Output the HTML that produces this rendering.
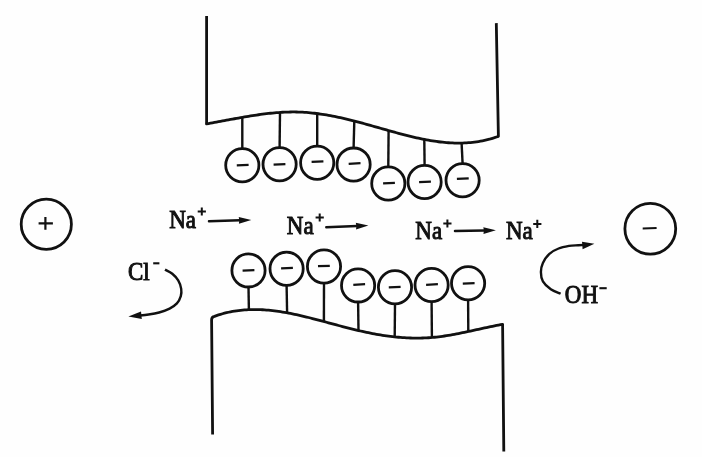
<!DOCTYPE html>
<html><head><meta charset="utf-8"><style>
html,body{margin:0;padding:0;background:#fff;width:702px;height:457px;overflow:hidden}
svg{display:block;will-change:transform}
text{font-family:"Liberation Serif",serif;fill:#111;stroke:#111;stroke-width:0.9px}
</style></head><body>
<svg width="702" height="457" viewBox="0 0 702 457">
<rect width="702" height="457" fill="#fefefe"/>
<path d="M206.6,15.9 L206.6,121.5 L206.50,123.85 L208.50,123.51 L210.50,123.16 L212.50,122.80 L214.50,122.44 L216.50,122.08 L218.50,121.71 L220.50,121.34 L222.50,120.97 L224.50,120.60 L226.50,120.23 L228.50,119.86 L230.50,119.48 L232.50,119.11 L234.50,118.75 L236.50,118.38 L238.50,118.02 L240.50,117.66 L242.50,117.31 L244.50,116.96 L246.50,116.62 L248.50,116.29 L250.50,115.96 L252.50,115.64 L254.50,115.33 L256.50,115.03 L258.50,114.74 L260.50,114.46 L262.50,114.19 L264.50,113.93 L266.50,113.69 L268.50,113.46 L270.50,113.24 L272.50,113.04 L274.50,112.85 L276.50,112.68 L278.50,112.53 L280.50,112.39 L282.50,112.27 L284.50,112.17 L286.50,112.09 L288.50,112.03 L290.50,111.99 L292.50,111.97 L294.50,111.97 L296.50,111.99 L298.50,112.04 L300.50,112.11 L302.50,112.21 L304.50,112.33 L306.50,112.47 L308.50,112.63 L310.50,112.81 L312.50,113.02 L314.50,113.24 L316.50,113.49 L318.50,113.75 L320.50,114.03 L322.50,114.33 L324.50,114.65 L326.50,114.98 L328.50,115.33 L330.50,115.70 L332.50,116.08 L334.50,116.48 L336.50,116.89 L338.50,117.31 L340.50,117.74 L342.50,118.19 L344.50,118.65 L346.50,119.12 L348.50,119.60 L350.50,120.09 L352.50,120.59 L354.50,121.10 L356.50,121.62 L358.50,122.15 L360.50,122.68 L362.50,123.22 L364.50,123.76 L366.50,124.31 L368.50,124.87 L370.50,125.42 L372.50,125.99 L374.50,126.55 L376.50,127.12 L378.50,127.69 L380.50,128.26 L382.50,128.83 L384.50,129.40 L386.50,129.97 L388.50,130.53 L390.50,131.09 L392.50,131.65 L394.50,132.21 L396.50,132.75 L398.50,133.30 L400.50,133.83 L402.50,134.36 L404.50,134.88 L406.50,135.39 L408.50,135.89 L410.50,136.39 L412.50,136.86 L414.50,137.33 L416.50,137.79 L418.50,138.23 L420.50,138.66 L422.50,139.07 L424.50,139.47 L426.50,139.85 L428.50,140.21 L430.50,140.55 L432.50,140.88 L434.50,141.19 L436.50,141.48 L438.50,141.74 L440.50,141.99 L442.50,142.21 L444.50,142.41 L446.50,142.58 L448.50,142.73 L450.50,142.86 L452.50,142.96 L454.50,143.03 L456.50,143.07 L458.50,143.09 L460.50,143.08 L462.50,143.04 L464.50,142.96 L466.50,142.86 L468.50,142.72 L470.50,142.55 L472.50,142.35 L474.50,142.11 L476.50,141.84 L478.50,141.53 L480.50,141.19 L482.50,140.81 L484.50,140.39 L486.50,139.93 L488.50,139.43 L490.50,138.90 L492.50,138.32 L494.50,137.70 L496.50,137.03 L498.40,136.36 L496.3,23.1" fill="none" stroke="#111" stroke-width="2.8" stroke-linejoin="round"/>
<line x1="242.3" y1="117.3" x2="242.3" y2="148.6" stroke="#111" stroke-width="2.4"/>
<circle cx="242.3" cy="165.2" r="16.6" fill="none" stroke="#111" stroke-width="2.8"/>
<line x1="236.8" y1="165.3" x2="248.6" y2="164.8" stroke="#111" stroke-width="2.2"/>
<line x1="280.0" y1="112.4" x2="279.6" y2="147.6" stroke="#111" stroke-width="2.4"/>
<circle cx="279.6" cy="164.2" r="16.6" fill="none" stroke="#111" stroke-width="2.8"/>
<line x1="273.6" y1="164.7" x2="285.4" y2="164.2" stroke="#111" stroke-width="2.2"/>
<line x1="317.2" y1="113.6" x2="317.2" y2="146.2" stroke="#111" stroke-width="2.4"/>
<circle cx="317.2" cy="162.8" r="16.6" fill="none" stroke="#111" stroke-width="2.8"/>
<line x1="311.6" y1="161.8" x2="323.4" y2="161.3" stroke="#111" stroke-width="2.2"/>
<line x1="354.3" y1="121.1" x2="353.6" y2="148.0" stroke="#111" stroke-width="2.4"/>
<circle cx="353.6" cy="164.6" r="16.6" fill="none" stroke="#111" stroke-width="2.8"/>
<line x1="348.7" y1="163.8" x2="360.5" y2="163.2" stroke="#111" stroke-width="2.2"/>
<line x1="388.6" y1="130.6" x2="388.3" y2="166.9" stroke="#111" stroke-width="2.4"/>
<circle cx="388.3" cy="183.5" r="16.6" fill="none" stroke="#111" stroke-width="2.8"/>
<line x1="383.1" y1="183.3" x2="394.9" y2="182.8" stroke="#111" stroke-width="2.2"/>
<line x1="424.3" y1="139.4" x2="424.6" y2="165.4" stroke="#111" stroke-width="2.4"/>
<circle cx="424.6" cy="182.0" r="16.6" fill="none" stroke="#111" stroke-width="2.8"/>
<line x1="419.1" y1="182.2" x2="430.9" y2="181.7" stroke="#111" stroke-width="2.2"/>
<line x1="461.6" y1="143.1" x2="462.6" y2="163.6" stroke="#111" stroke-width="2.4"/>
<circle cx="462.6" cy="180.2" r="16.6" fill="none" stroke="#111" stroke-width="2.8"/>
<line x1="456.9" y1="178.8" x2="468.7" y2="178.3" stroke="#111" stroke-width="2.2"/>
<path d="M212.6,434.5 L211.6,320 Q211.5,316.7 214.50,316.31 L216.50,315.61 L218.50,314.95 L220.50,314.33 L222.50,313.75 L224.50,313.21 L226.50,312.72 L228.50,312.26 L230.50,311.84 L232.50,311.46 L234.50,311.12 L236.50,310.81 L238.50,310.54 L240.50,310.30 L242.50,310.10 L244.50,309.93 L246.50,309.79 L248.50,309.68 L250.50,309.61 L252.50,309.56 L254.50,309.55 L256.50,309.56 L258.50,309.60 L260.50,309.67 L262.50,309.77 L264.50,309.89 L266.50,310.04 L268.50,310.21 L270.50,310.40 L272.50,310.62 L274.50,310.85 L276.50,311.11 L278.50,311.39 L280.50,311.69 L282.50,312.01 L284.50,312.35 L286.50,312.70 L288.50,313.07 L290.50,313.45 L292.50,313.86 L294.50,314.27 L296.50,314.70 L298.50,315.14 L300.50,315.59 L302.50,316.06 L304.50,316.53 L306.50,317.02 L308.50,317.51 L310.50,318.01 L312.50,318.52 L314.50,319.04 L316.50,319.56 L318.50,320.09 L320.50,320.62 L322.50,321.16 L324.50,321.69 L326.50,322.23 L328.50,322.78 L330.50,323.32 L332.50,323.86 L334.50,324.40 L336.50,324.94 L338.50,325.48 L340.50,326.01 L342.50,326.54 L344.50,327.07 L346.50,327.59 L348.50,328.10 L350.50,328.61 L352.50,329.11 L354.50,329.60 L356.50,330.08 L358.50,330.55 L360.50,331.01 L362.50,331.46 L364.50,331.90 L366.50,332.32 L368.50,332.74 L370.50,333.14 L372.50,333.53 L374.50,333.90 L376.50,334.26 L378.50,334.61 L380.50,334.95 L382.50,335.27 L384.50,335.57 L386.50,335.86 L388.50,336.13 L390.50,336.39 L392.50,336.63 L394.50,336.85 L396.50,337.06 L398.50,337.25 L400.50,337.42 L402.50,337.57 L404.50,337.70 L406.50,337.82 L408.50,337.91 L410.50,337.99 L412.50,338.05 L414.50,338.08 L416.50,338.10 L418.50,338.09 L420.50,338.06 L422.50,338.01 L424.50,337.94 L426.50,337.85 L428.50,337.73 L430.50,337.59 L432.50,337.43 L434.50,337.24 L436.50,337.03 L438.50,336.80 L440.50,336.55 L442.50,336.28 L444.50,335.99 L446.50,335.68 L448.50,335.36 L450.50,335.03 L452.50,334.67 L454.50,334.31 L456.50,333.93 L458.50,333.55 L460.50,333.15 L462.50,332.74 L464.50,332.33 L466.50,331.91 L468.50,331.48 L470.50,331.05 L472.50,330.61 L474.50,330.17 L476.50,329.73 L478.50,329.29 L480.50,328.85 L482.50,328.41 L484.50,327.98 L486.50,327.54 L488.50,327.12 L490.50,326.69 L492.50,326.28 L494.50,325.87 L496.50,325.47 L498.50,325.08 L500.50,324.70 L502.50,324.33 L502.60,324.31 L503.8,451.6" fill="none" stroke="#111" stroke-width="2.8" stroke-linejoin="round"/>
<line x1="248.9" y1="309.7" x2="248.5" y2="287.0" stroke="#111" stroke-width="2.4"/>
<circle cx="248.5" cy="270.4" r="16.6" fill="none" stroke="#111" stroke-width="2.8"/>
<line x1="242.6" y1="270.6" x2="254.4" y2="270.1" stroke="#111" stroke-width="2.2"/>
<line x1="287.1" y1="312.8" x2="286.6" y2="285.3" stroke="#111" stroke-width="2.4"/>
<circle cx="286.6" cy="268.7" r="16.6" fill="none" stroke="#111" stroke-width="2.8"/>
<line x1="281.1" y1="268.4" x2="292.9" y2="267.9" stroke="#111" stroke-width="2.2"/>
<line x1="323.9" y1="321.5" x2="324.0" y2="283.1" stroke="#111" stroke-width="2.4"/>
<circle cx="324.0" cy="266.5" r="16.6" fill="none" stroke="#111" stroke-width="2.8"/>
<line x1="318.0" y1="266.2" x2="329.8" y2="265.8" stroke="#111" stroke-width="2.2"/>
<line x1="358.5" y1="330.5" x2="358.1" y2="302.0" stroke="#111" stroke-width="2.4"/>
<circle cx="358.1" cy="285.4" r="16.6" fill="none" stroke="#111" stroke-width="2.8"/>
<line x1="353.3" y1="284.8" x2="365.1" y2="284.2" stroke="#111" stroke-width="2.2"/>
<line x1="394.7" y1="336.9" x2="395.0" y2="303.9" stroke="#111" stroke-width="2.4"/>
<circle cx="395.0" cy="287.3" r="16.6" fill="none" stroke="#111" stroke-width="2.8"/>
<line x1="388.8" y1="287.4" x2="400.6" y2="286.9" stroke="#111" stroke-width="2.2"/>
<line x1="431.9" y1="337.5" x2="431.6" y2="301.6" stroke="#111" stroke-width="2.4"/>
<circle cx="431.6" cy="285.0" r="16.6" fill="none" stroke="#111" stroke-width="2.8"/>
<line x1="426.1" y1="284.8" x2="437.9" y2="284.2" stroke="#111" stroke-width="2.2"/>
<line x1="468.3" y1="331.5" x2="468.1" y2="299.9" stroke="#111" stroke-width="2.4"/>
<circle cx="468.1" cy="283.3" r="16.6" fill="none" stroke="#111" stroke-width="2.8"/>
<line x1="462.8" y1="283.6" x2="474.6" y2="283.1" stroke="#111" stroke-width="2.2"/>
<circle cx="46.3" cy="224.2" r="25.1" fill="none" stroke="#111" stroke-width="2.8"/>
<path d="M38.6,223.4 H52.9 M45.4,216.9 V229.8" stroke="#111" stroke-width="2.2"/>
<circle cx="650.3" cy="228.7" r="25.4" fill="none" stroke="#111" stroke-width="2.8"/>
<line x1="642.7" y1="228.5" x2="656.6" y2="228.1" stroke="#111" stroke-width="2"/>
<g transform="translate(209.00,221.20) rotate(-1.62)"><line x1="0" y1="0" x2="30.82" y2="0" stroke="#111" stroke-width="2.5" stroke-linecap="round"/><path d="M42.32,0 L29.82,-3.40 L30.32,0 L29.82,3.40 Z" fill="#111"/></g>
<g transform="translate(326.30,227.20) rotate(-2.18)"><line x1="0" y1="0" x2="30.63" y2="0" stroke="#111" stroke-width="2.5" stroke-linecap="round"/><path d="M42.13,0 L29.63,-3.40 L30.13,0 L29.63,3.40 Z" fill="#111"/></g>
<g transform="translate(455.00,231.10) rotate(-1.12)"><line x1="0" y1="0" x2="29.41" y2="0" stroke="#111" stroke-width="2.5" stroke-linecap="round"/><path d="M40.91,0 L28.41,-3.40 L28.91,0 L28.41,3.40 Z" fill="#111"/></g>
<path d="M165.0,269.6 C166.2,270.3 170.1,272.0 172.3,273.8 C174.5,275.6 176.7,277.9 178.2,280.4 C179.7,282.9 180.8,286.3 181.2,288.9 C181.6,291.5 181.5,293.7 180.8,296.1 C180.1,298.5 178.8,301.3 176.9,303.4 C175.0,305.5 172.6,307.1 169.6,308.6 C166.6,310.1 162.6,311.5 159.1,312.5 C155.6,313.5 152.1,314.0 148.6,314.5 C145.1,315.0 139.8,315.5 138.0,315.7" fill="none" stroke="#111" stroke-width="2.4"/>
<path d="M128.4,316.5 L141.0,311.6 L141.8,318.9 Z" fill="#111"/>
<path d="M560.6,293.8 C559.0,293.0 553.8,291.3 550.8,289.2 C547.8,287.1 544.5,284.1 542.9,281.3 C541.2,278.5 540.9,275.2 540.9,272.1 C540.9,269.0 541.5,265.9 542.9,262.9 C544.3,259.8 546.8,256.2 549.4,253.8 C552.0,251.4 555.3,249.8 558.6,248.5 C561.9,247.2 565.8,246.5 569.1,245.9 C572.4,245.3 575.6,245.4 578.3,245.2 C580.9,245.0 583.9,244.9 585.0,244.9" fill="none" stroke="#111" stroke-width="2.4"/>
<path d="M594.4,243.7 L582.0,241.7 L582.6,249.2 Z" fill="#111"/>
<text transform="translate(169.2,227.5) scale(1,1.050)" font-size="23">Na</text>
<text transform="translate(286.8,233.5) scale(1,1.050)" font-size="23">Na</text>
<text transform="translate(415.3,238.5) scale(1,1.050)" font-size="23">Na</text>
<text transform="translate(506.0,239.1) scale(1,1.050)" font-size="23">Na</text>
<text transform="translate(128.0,279.5) scale(1,1.050)" font-size="23">Cl</text>
<text transform="translate(564.8,303.2) scale(1,1.050)" font-size="23">OH</text>
<path d="M197.7,211.5 H205.9 M201.8,207.4 V215.6" stroke="#111" stroke-width="2.0"/>
<path d="M315.6,217.5 H323.8 M319.7,213.4 V221.6" stroke="#111" stroke-width="2.0"/>
<path d="M443.3,223.5 H451.5 M447.4,219.4 V227.6" stroke="#111" stroke-width="2.0"/>
<path d="M533.2,223.9 H541.4 M537.3,219.8 V228.0" stroke="#111" stroke-width="2.0"/>
<line x1="153.2" y1="263.3" x2="159.4" y2="263.3" stroke="#111" stroke-width="2.1"/>
<line x1="599.4" y1="288.2" x2="606.7" y2="288.2" stroke="#111" stroke-width="2.1"/>
</svg>
</body></html>
